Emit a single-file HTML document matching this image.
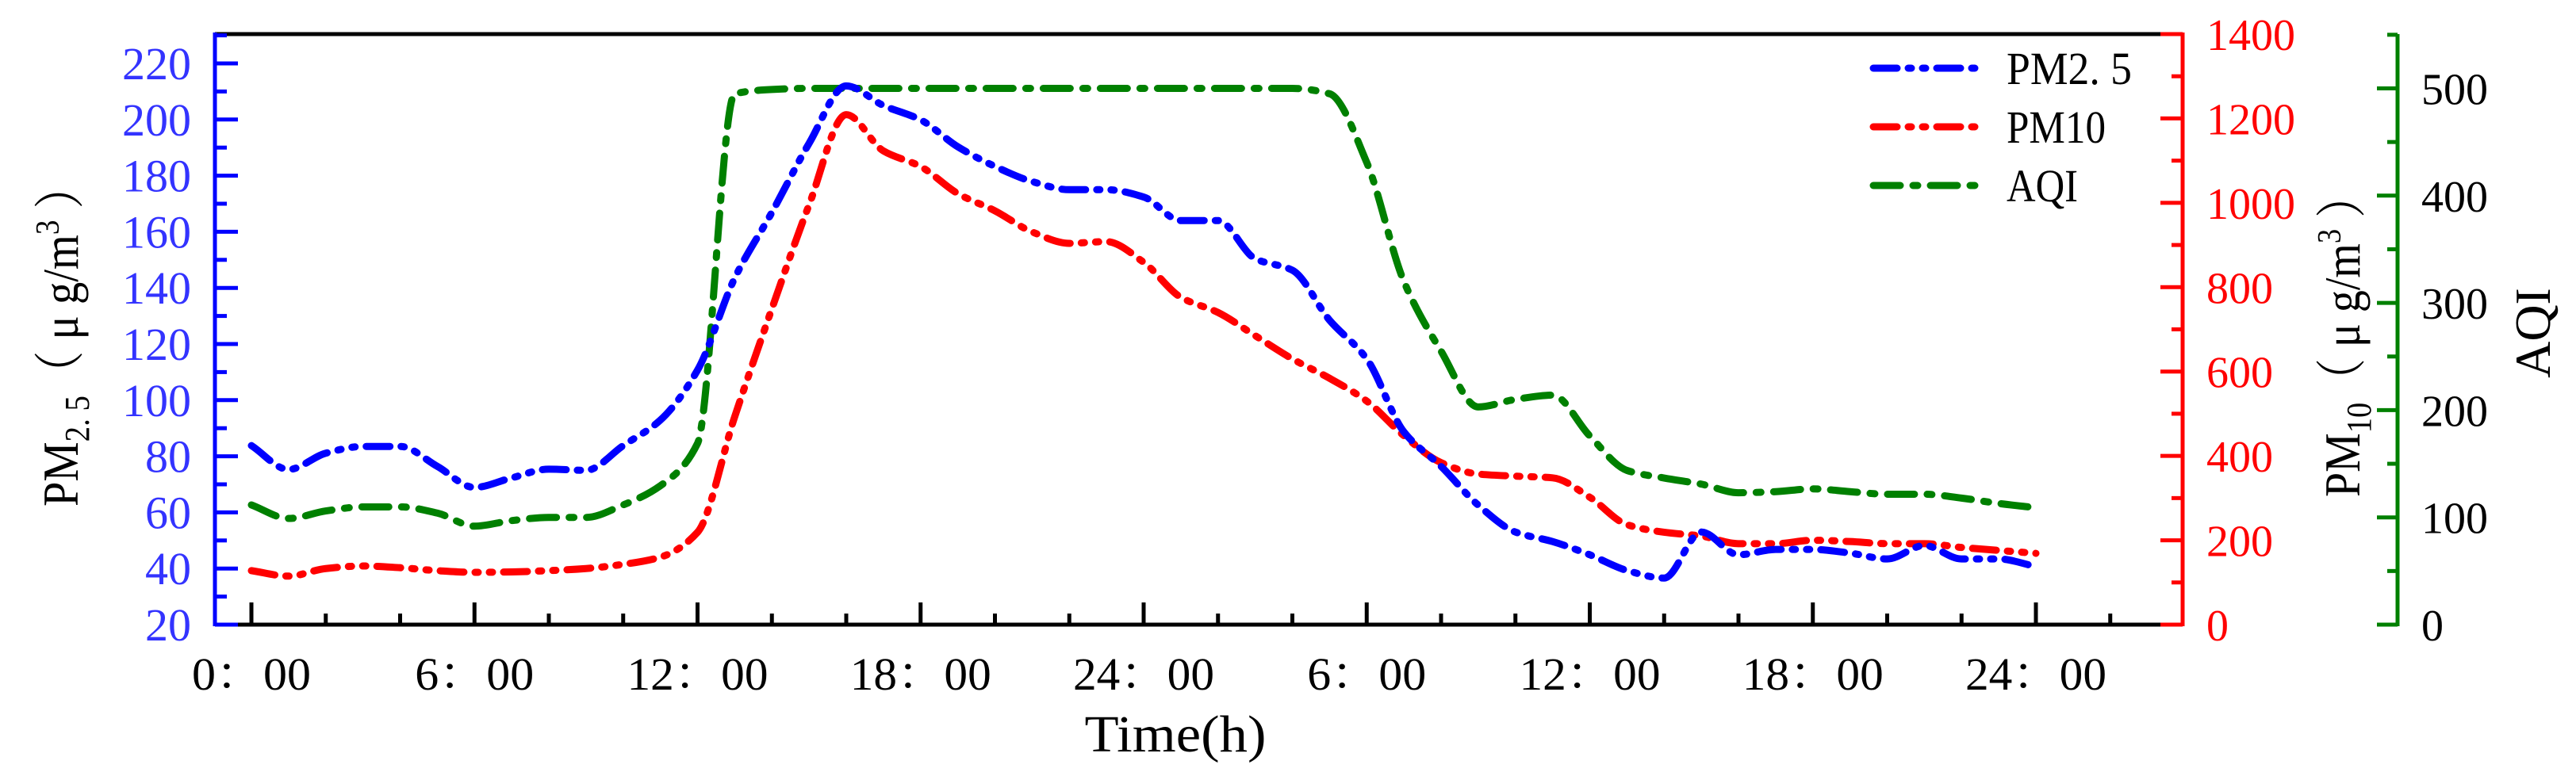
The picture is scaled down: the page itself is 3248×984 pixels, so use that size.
<!DOCTYPE html>
<html><head><meta charset="utf-8"><style>
html,body{margin:0;padding:0;background:#fff;}
svg{display:block;font-family:"Liberation Serif","Noto Serif CJK SC",serif;}
</style></head><body>
<svg id="chart" width="3248" height="984" viewBox="0 0 3248 984" xmlns="http://www.w3.org/2000/svg">
<g id="axes"></g>
<g id="series"></g>
<g id="labels"></g>
</svg>
<script>
const hours = [];
for (let i = 0; i <= 48; i++) hours.push(i);
const pm25 = [83.8,75.3,81.1,83.5,83.5,76.4,68.9,72.3,75.4,75,83.8,92.9,110.7,143.5,166.9,191.5,212,205,199.9,190.3,183.3,177.9,175,175,172.4,164,164,150.4,146.3,128.5,114.7,88.7,76.4,62.6,53,49.6,44.9,39.3,36.6,53,44.9,46.8,46.8,45.5,43.4,48.2,43.4,43.4,40.7];
const pm10 = [128,115,133,139,135,128,124,125,128,133,143,160,219,493,749,995,1209,1123,1086,1022,981,931,904,908,859,776,740,685,630,584,530,448,384,357,352,348,302,237,219,210,192,192,200,197,192,192,183,176,169];
const aqi = [111.6,99,106,109.8,109.8,104,91.8,97,100,100,111.6,129.5,169,495,499,500,500,500,500,500,500,500,500,500,500,500,500,500,500,495,431,320,255,203,210,214,176,143.8,136.7,131,123,124,126.6,124,121.6,121.6,118,113,109];
const xTickLabels = ["0：00","6：00","12：00","18：00","24：00","6：00","12：00","18：00","24：00"];
const leftTicks = [20,40,60,80,100,120,140,160,180,200,220];
const redTicks = [0,200,400,600,800,1000,1200,1400];
const greenTicks = [0,100,200,300,400,500];

const NS = "http://www.w3.org/2000/svg";
const L = 271, R = 2752, T = 43, B = 788;
const xs = h => 317 + h * 46.875;
const yBlue = v => 788 - (v - 20) * 3.54;
const yRed = v => 788 - v * (745 / 1400);
const yGreen = v => 788 - v * 1.353;
const GX = 3023;

function mk(tag, attrs, parent) {
  const e = document.createElementNS(NS, tag);
  for (const k in attrs) e.setAttribute(k, attrs[k]);
  parent.appendChild(e);
  return e;
}
const axes = document.getElementById('axes');
const series = document.getElementById('series');
const labels = document.getElementById('labels');

let e;
e = mk('line', {x1:L, y1:T, x2:R, y2:T, stroke:'#000', 'stroke-width':5}, axes);
 
e = mk('line', {x1:L, y1:B, x2:R, y2:B, stroke:'#000', 'stroke-width':5}, axes);
 
e = mk('line', {x1:L, y1:T-2, x2:L, y2:B+2, stroke:'#0000ff', 'stroke-width':5}, axes);
 
e = mk('line', {x1:R, y1:T-2, x2:R, y2:B+2, stroke:'#ff0000', 'stroke-width':5}, axes);
 
e = mk('line', {x1:GX, y1:T, x2:GX, y2:B+2, stroke:'#008000', 'stroke-width':5}, axes);
 

for (let h = 0; h <= 52; h += 2) {
  const major = h % 6 === 0 && h <= 48;
  const x = xs(h);
  if (x >= R - 3) continue;
  e = mk('line', {x1:x, y1:B, x2:x, y2:B - (major ? 28 : 14), stroke:'#000', 'stroke-width':5}, axes);
   
}
xTickLabels.forEach((t, i) => {
  const x = xs(i * 6);
  const w = (t.length === 4 ? 150 : 178);
  e = mk('text', {x:x, y:870, 'font-size':58, 'text-anchor':'middle', fill:'#000', textLength:w, lengthAdjust:'spacingAndGlyphs'}, labels);
  e.textContent = t;
   
});

for (let v = 20; v <= 230; v += 10) {
  const major = v % 20 === 0;
  const y = yBlue(v);
  if (y < T) continue;
  e = mk('line', {x1:L, y1:y, x2:L + (major ? 29 : 15), y2:y, stroke:'#0000ff', 'stroke-width':5}, axes);
   
}
leftTicks.forEach(v => {
  e = mk('text', {x:241, y:yBlue(v) + 20, 'font-size':58, 'text-anchor':'end', fill:'#3333ff'}, labels);
  e.textContent = v;
   
});

for (let v = 0; v <= 1400; v += 100) {
  const major = v % 200 === 0;
  const y = yRed(v);
  e = mk('line', {x1:R, y1:y, x2:R - (major ? 28 : 14), y2:y, stroke:'#ff0000', 'stroke-width':5}, axes);
   
}
redTicks.forEach(v => {
  e = mk('text', {x:2782, y:yRed(v) + 20, 'font-size':56, 'text-anchor':'start', fill:'#ff0000'}, labels);
  e.textContent = v;
   
});

for (let v = 0; v <= 550; v += 50) {
  const major = v % 100 === 0;
  const y = yGreen(v);
  if (y < T - 1) continue;
  e = mk('line', {x1:GX, y1:y, x2:GX - (major ? 26 : 13), y2:y, stroke:'#008000', 'stroke-width':5}, axes);
   
}
greenTicks.forEach(v => {
  e = mk('text', {x:3053, y:yGreen(v) + 20, 'font-size':56, 'text-anchor':'start', fill:'#000'}, labels);
  e.textContent = v;
   
});

// monotone cubic (Fritsch-Carlson) to avoid overshoot
function smooth(pts) {
  const n = pts.length;
  const dx = [], m = [], t = [];
  for (let i = 0; i < n - 1; i++) { dx[i] = pts[i+1][0] - pts[i][0]; m[i] = (pts[i+1][1] - pts[i][1]) / dx[i]; }
  t[0] = m[0]; t[n-1] = m[n-2];
  for (let i = 1; i < n - 1; i++) {
    if (m[i-1] * m[i] <= 0) t[i] = 0;
    else t[i] = 2 / (1 / m[i-1] + 1 / m[i]);
  }
  let d = 'M' + pts[0][0] + ',' + pts[0][1];
  for (let i = 0; i < n - 1; i++) {
    const h = dx[i] / 3;
    d += 'C' + (pts[i][0] + h) + ',' + (pts[i][1] + t[i] * h) + ' ' + (pts[i+1][0] - h) + ',' + (pts[i+1][1] - t[i+1] * h) + ' ' + pts[i+1][0] + ',' + pts[i+1][1];
  }
  return d;
}
const defs = [
  {vals: aqi, fy: yGreen, color: '#008000', dash: '34 16 6 16', name: 'aqi-line'},
  {vals: pm10, fy: yRed, color: '#ff0000', dash: '30 14 4 14 4 14', name: 'pm10-line'},
  {vals: pm25, fy: yBlue, color: '#0000ff', dash: '30 14 4 14 4 14', name: 'pm25-line'}
];
defs.forEach(s => {
  const pts = s.vals.map((v, i) => [xs(hours[i]), s.fy(v)]);
  e = mk('path', {d: smooth(pts), fill:'none', stroke:s.color, 'stroke-width':9, 'stroke-dasharray':s.dash, 'stroke-linecap':'round', 'stroke-linejoin':'round'}, series);
   
});

const legendNames = ["PM2. 5","PM10","AQI"];
const legendColors = ['#0000ff','#ff0000','#008000'];
const legendDash = ['30 14 4 14 4 14','30 14 4 14 4 14','34 16 6 16'];
const lg = mk('g', {}, labels);
 
legendNames.forEach((n, i) => {
  const y = 86 + i * 74;
  e = mk('line', {x1:2362, y1:y, x2:2493, y2:y, stroke:legendColors[i], 'stroke-width':9, 'stroke-dasharray':legendDash[i], 'stroke-linecap':'round'}, lg);
   
  const wl = [158, 125, 90][i];
  e = mk('text', {x:2530, y:y + 20, 'font-size':58, fill:'#000', textLength:wl, lengthAdjust:'spacingAndGlyphs'}, lg);
  e.textContent = n;
   
});

e = mk('text', {x:1482, y:948, 'font-size':66, 'text-anchor':'middle', fill:'#000', textLength:229, lengthAdjust:'spacingAndGlyphs'}, labels);
e.textContent = 'Time(h)';
 

function vtitle(x, y, html, name, len) {
  const t = mk('text', {x:0, y:0, 'font-size':64, 'text-anchor':'middle', fill:'#000', transform:'translate(' + x + ',' + y + ') rotate(-90)'}, labels);
  t.innerHTML = html;
  if (len) { t.setAttribute('textLength', len); t.setAttribute('lengthAdjust', 'spacingAndGlyphs'); }
   
}
vtitle(98, 423, 'PM<tspan font-size="44" dy="14">2. 5</tspan><tspan dy="-14">（ μ g/m</tspan><tspan font-size="42" dy="-24">3</tspan><tspan dy="24"> ）</tspan>', 'pm25-axis-title', 432);
vtitle(2975, 423, 'PM<tspan font-size="44" dy="14">10</tspan><tspan dy="-14">（ μ g/m</tspan><tspan font-size="42" dy="-24">3</tspan><tspan dy="24"> ）</tspan>', 'pm10-axis-title', 408);
vtitle(3215, 420, 'AQI', 'aqi-axis-title');
</script>
</body></html>
